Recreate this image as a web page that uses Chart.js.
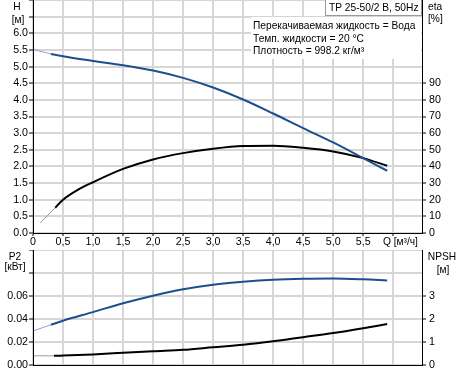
<!DOCTYPE html>
<html>
<head>
<meta charset="utf-8">
<script src="https://cdn.jsdelivr.net/npm/chart.js@4.4.0/dist/chart.umd.min.js"></script>
<style>
  body { margin: 0; background: #fff; }
  #wrap { position: relative; width: 462px; height: 373px; }
  #topBox { position: absolute; left: 0; top: 0; width: 462px; height: 250px; }
  #bottomBox { position: absolute; left: 0; top: 250px; width: 462px; height: 123px; }
</style>
</head>
<body>
<div id="wrap">
  <div id="topBox"><canvas id="curveChart"></canvas></div>
  <div id="bottomBox"><canvas id="powerChart"></canvas></div>
</div>
<script>
// Q axis (shared by both charts)
const qTicks = [0, 0.5, 1.0, 1.5, 2.0, 2.5, 3.0, 3.5, 4.0, 4.5, 5.0, 5.5, 6.0];
const qLabels = ['0', '0,5', '1,0', '1,5', '2,0', '2,5', '3,0', '3,5', '4,0', '4,5', '5,0', '5,5', ''];

// Head H [m]
const headTicks = [0, 0.5, 1.0, 1.5, 2.0, 2.5, 3.0, 3.5, 4.0, 4.5, 5.0, 5.5, 6.0, 6.5, 7.0];
const headLabels = ['0.0', '0.5', '1.0', '1.5', '2.0', '2.5', '3.0', '3.5', '4.0', '4.5', '5.0', '5.5', '6.0', '', ''];
const headFlow = [0, 0.3, 0.5, 1.0, 1.5, 2.0, 2.5, 3.0, 3.5, 4.0, 4.5, 5.0, 5.5, 5.9];
const headValues = [5.52, 5.38, 5.31, 5.17, 5.04, 4.88, 4.66, 4.37, 4.01, 3.59, 3.15, 2.72, 2.25, 1.87];

// Efficiency eta [%]
const etaTicks = [0, 10, 20, 30, 40, 50, 60, 70, 80, 90];
const etaFlow = [0.12, 0.37, 0.5, 0.75, 1.0, 1.5, 2.0, 2.5, 3.0, 3.5, 4.0, 4.5, 5.0, 5.5, 5.9];
const etaValues = [6, 15.2, 20.0, 26.0, 30.5, 38.5, 44.2, 48, 50.6, 52.2, 52.4, 51.2, 49, 45, 40.4];

// Power P2 [kW]
const powerTicks = [0, 0.02, 0.04, 0.06, 0.08, 0.1];
const powerLabels = ['0.00', '0.02', '0.04', '0.06', '', ''];
const powerFlow = [0, 0.3, 0.5, 1.0, 1.5, 2.0, 2.5, 3.0, 3.5, 4.0, 4.5, 5.0, 5.5, 5.9];
const powerValues = [0.0296, 0.0350, 0.0385, 0.0460, 0.0537, 0.0603, 0.0658, 0.0698, 0.0724, 0.0742, 0.0750, 0.0752, 0.0745, 0.0735];

// NPSH [m]
const npshTicks = [0, 1, 2, 3];
const npshFlow = [0, 0.35, 0.5, 1.0, 1.5, 2.0, 2.5, 3.0, 3.5, 4.0, 4.5, 5.0, 5.5, 5.9];
const npshValues = [0.40, 0.40, 0.41, 0.46, 0.53, 0.60, 0.66, 0.77, 0.88, 1.03, 1.21, 1.39, 1.60, 1.78];

const FONT = 'Arial, "Liberation Sans", sans-serif';
const FONT_SIZE = 10.67;
const TEXT_FONT = '10.2px ' + FONT;
const BLUE = '#1b4f8f';
const GRID = '#d6d6d6';

const toPoints = (xs, ys) => xs.map((x, i) => ({ x: x, y: ys[i] }));

// thin, pale start of each curve
const startSegment = (cut, pale) => ({
    borderColor: c => c.p1.parsed.x <= cut ? pale : undefined,
    borderWidth: c => c.p1.parsed.x <= cut ? 1 : undefined
});

const fixedTicks = (list) => (scale) => {
    scale.ticks = list.map(v => ({ value: v }));
};

const fixWidth = (w) => (scale) => {
    scale.width = w;
    scale.paddingTop = 0;
    scale.paddingBottom = 0;
};

const fixHeight = (h) => (scale) => {
    scale.height = h;
    scale.paddingLeft = 0;
    scale.paddingRight = 0;
};

// texts that are not part of the axes
const curveTexts = {
    id: 'curveTexts',
    afterDraw(chart) {
        const ctx = chart.ctx;
        ctx.save();
        ctx.font = TEXT_FONT;
        ctx.fillStyle = '#000';
        ctx.textBaseline = 'middle';
        ctx.textAlign = 'center';
        ctx.fillText('H', 17, 7);
        ctx.fillText('[м]', 18, 20);
        ctx.textAlign = 'left';
        ctx.fillText('eta', 428, 7);
        ctx.fillText('[%]', 428, 19);

        // title box
        ctx.fillStyle = '#fff';
        ctx.fillRect(325, 0, 97, 16);
        ctx.strokeStyle = '#999';
        ctx.lineWidth = 1;
        ctx.strokeRect(325.5, -0.5, 96, 16);
        ctx.fillStyle = '#000';
        ctx.fillText('TP 25-50/2 B, 50Hz', 329, 8);

        // fluid info
        ctx.fillStyle = '#fff';
        ctx.fillRect(251, 17, 170, 42);
        ctx.fillStyle = '#000';
        ctx.fillText('Перекачиваемая жидкость = Вода', 253, 26);
        ctx.fillText('Темп. жидкости = 20 °C', 253, 39);
        ctx.fillText('Плотность = 998.2 кг/м³', 253, 51);

        ctx.fillText('Q [м³/ч]', 383, 242);
        ctx.restore();
    }
};

const powerTexts = {
    id: 'powerTexts',
    afterDraw(chart) {
        const ctx = chart.ctx;
        ctx.save();
        ctx.font = TEXT_FONT;
        ctx.fillStyle = '#000';
        ctx.textBaseline = 'middle';
        ctx.textAlign = 'center';
        ctx.fillText('P2', 15, 7);
        ctx.fillText('[кВт]', 15, 17);
        ctx.fillText('NPSH', 442, 7);
        ctx.fillText('[м]', 443, 20);
        ctx.restore();
    }
};

Chart.defaults.font.family = FONT;
Chart.defaults.font.size = FONT_SIZE;
Chart.defaults.color = '#000';

// light 2px grid on the chart area, thin black tick marks outside
const gridOpts = (tickLen, onArea) => ({
    drawOnChartArea: onArea,
    color: GRID,
    lineWidth: 2,
    tickColor: '#000',
    tickWidth: 1,
    tickLength: tickLen,
    drawTicks: tickLen > 0
});

new Chart(document.getElementById('curveChart'), {
    type: 'line',
    data: {
        datasets: [{
            label: 'H',
            data: toPoints(headFlow, headValues),
            yAxisID: 'yHead',
            borderColor: BLUE,
            borderWidth: 2,
            pointRadius: 0,
            cubicInterpolationMode: 'monotone',
            segment: startSegment(0.3, '#8fa3bf')
        }, {
            label: 'eta',
            data: toPoints(etaFlow, etaValues),
            yAxisID: 'yEta',
            borderColor: '#000',
            borderWidth: 2,
            pointRadius: 0,
            cubicInterpolationMode: 'monotone',
            segment: startSegment(0.37, '#999')
        }]
    },
    options: {
        responsive: true,
        maintainAspectRatio: false,
        animation: false,
        layout: { padding: 0 },
        plugins: { legend: { display: false }, tooltip: { enabled: false } },
        scales: {
            x: {
                type: 'linear',
                min: 0,
                max: 6.48,
                afterBuildTicks: fixedTicks(qTicks),
                afterFit: fixHeight(17),
                ticks: { callback: (v, i) => qLabels[i], padding: 0, maxRotation: 0, autoSkip: false },
                grid: gridOpts(3, true),
                border: { color: '#000', width: 1, z: 1 }
            },
            yHead: {
                position: 'left',
                min: 0,
                max: 7,
                afterBuildTicks: fixedTicks(headTicks),
                afterFit: fixWidth(33),
                ticks: { callback: (v, i) => headLabels[i], padding: 1, autoSkip: false },
                grid: gridOpts(4, true),
                border: { color: '#000', width: 1, z: 1 }
            },
            yEta: {
                position: 'right',
                min: 0,
                max: 140,
                afterBuildTicks: fixedTicks(etaTicks),
                afterFit: fixWidth(40),
                ticks: { padding: 3, autoSkip: false },
                grid: gridOpts(4, false),
                border: { color: '#000', width: 1, z: 1 }
            }
        }
    },
    plugins: [curveTexts]
});

new Chart(document.getElementById('powerChart'), {
    type: 'line',
    data: {
        datasets: [{
            label: 'P2',
            data: toPoints(powerFlow, powerValues),
            yAxisID: 'yPower',
            borderColor: BLUE,
            borderWidth: 2,
            pointRadius: 0,
            cubicInterpolationMode: 'monotone',
            segment: startSegment(0.3, '#8fa3bf')
        }, {
            label: 'NPSH',
            data: toPoints(npshFlow, npshValues),
            yAxisID: 'yNpsh',
            borderColor: '#000',
            borderWidth: 2,
            pointRadius: 0,
            cubicInterpolationMode: 'monotone',
            segment: startSegment(0.35, '#999')
        }]
    },
    options: {
        responsive: true,
        maintainAspectRatio: false,
        animation: false,
        layout: { padding: 0 },
        plugins: { legend: { display: false }, tooltip: { enabled: false } },
        scales: {
            x: {
                type: 'linear',
                min: 0,
                max: 6.48,
                afterBuildTicks: fixedTicks(qTicks),
                afterFit: fixHeight(8),
                ticks: { display: false },
                grid: gridOpts(0, true),
                border: { color: '#000', width: 1, z: 1 }
            },
            yPower: {
                position: 'left',
                min: 0,
                max: 0.1,
                afterBuildTicks: fixedTicks(powerTicks),
                afterFit: fixWidth(33),
                ticks: { callback: (v, i) => powerLabels[i], padding: 1, autoSkip: false },
                grid: gridOpts(4, true),
                border: { color: '#000', width: 1, z: 1 }
            },
            yNpsh: {
                position: 'right',
                min: 0,
                max: 5,
                afterBuildTicks: fixedTicks(npshTicks),
                afterFit: fixWidth(40),
                ticks: { padding: 3, autoSkip: false },
                grid: gridOpts(4, false),
                border: { color: '#000', width: 1, z: 1 }
            }
        }
    },
    plugins: [powerTexts]
});
</script>
</body>
</html>
